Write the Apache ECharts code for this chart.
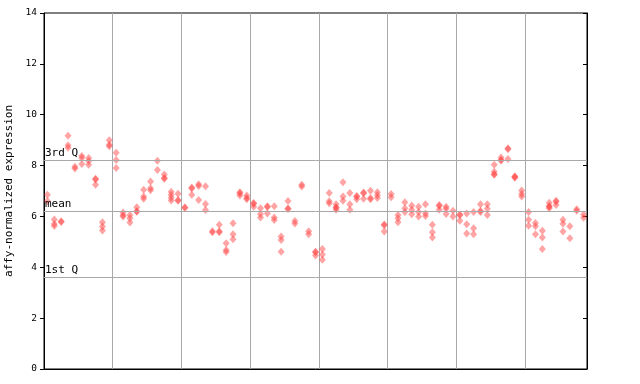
<!DOCTYPE html>
<html>
<head>
<meta charset="utf-8">
<script src="https://cdn.jsdelivr.net/npm/echarts@6/dist/echarts.min.js"></script>
<style>html,body{margin:0;padding:0;background:#fff}#c{width:640px;height:384px}</style>
</head>
<body>
<div id="c"></div>
<script>
// replicate values per sample, grouped by 10 samples between grid lines
const samples00 = [[6.85,6.61],[5.88,5.70,5.62],[5.81,5.78],[9.17,8.80,8.70],[7.95,7.88],[8.38,8.30,8.06],[8.30,8.18,8.03],[7.48,7.45,7.25],[5.77,5.60,5.45],[9.00,8.82,8.76]];
const samples10 = [[8.50,8.22,7.90],[6.15,6.05,6.00],[6.06,5.93,5.76],[6.36,6.20,6.18],[7.05,6.78,6.70],[7.37,7.11,7.03],[8.19,7.83],[7.65,7.51,7.48],[6.97,6.85,6.73,6.63],[6.89,6.65,6.62]];
const samples20 = [[6.36,6.33],[7.14,7.10,6.85],[7.27,7.20,6.65],[7.19,6.49,6.25],[5.42,5.38],[5.67,5.42,5.38],[4.95,4.68,4.60],[5.73,5.30,5.10],[6.95,6.91,6.82],[6.82,6.72,6.68]];
const samples30 = [[6.53,6.50,6.38],[6.32,6.10,5.96],[6.40,6.37,6.12],[6.40,5.96,5.86],[5.21,5.07,4.61],[6.61,6.31,6.29],[5.82,5.72],[7.25,7.18],[5.42,5.30],[4.61,4.59,4.46]];
const samples40 = [[4.72,4.50,4.30],[6.92,6.60,6.52],[6.48,6.36,6.34,6.26],[7.34,6.78,6.62],[6.92,6.48,6.26],[6.80,6.77,6.68],[6.94,6.91,6.70],[7.01,6.72,6.68],[6.95,6.83,6.72],[5.68,5.65,5.41]];
const samples50 = [[6.88,6.75],[6.06,5.93,5.77],[6.56,6.32,6.17],[6.43,6.26,6.09],[6.38,6.17,6.00],[6.48,6.12,6.02],[5.67,5.38,5.17],[6.45,6.41,6.26],[6.38,6.30,6.10],[6.22,6.00]];
const samples60 = [[6.08,6.05,5.83],[6.12,5.69,5.33],[6.17,5.54,5.30],[6.48,6.22,6.17],[6.48,6.30,6.06],[8.03,7.76,7.66,7.64],[8.32,8.22,8.20],[8.68,8.64,8.26],[7.58,7.55,7.52],[7.02,6.88,6.78]];
const samples70 = [[6.17,5.87,5.63],[5.74,5.61,5.30],[5.44,5.17,4.72],[6.54,6.41,6.38,6.32],[6.62,6.58,6.45],[5.87,5.71,5.41],[5.61,5.14],[6.28,6.22],[6.08,5.95]];
const quartiles = {q3: 8.22, mean: 6.22, q1: 3.62};
const quartileLabels = ['3rd Q', 'mean', '1st Q'];
const yTicks = [0, 2, 4, 6, 8, 10, 12, 14];
const yTitle = 'affy-normalized expression';

const allSamples = [].concat(samples00, samples10, samples20, samples30, samples40, samples50, samples60, samples70);
const points = [];
allSamples.forEach((vals, k) => vals.forEach(v => points.push([k + 0.5, v])));

const chart = echarts.init(document.getElementById('c'), null, {renderer: 'canvas'});
const mono = 'DejaVu Sans Mono';
chart.setOption({
  animation: false,
  grid: {left: 44, right: 53, top: 13, bottom: 15, outerBoundsMode: 'none', containLabel: false,
    show: true, borderColor: '#000', borderWidth: 1, backgroundColor: 'transparent'},
  xAxis: {
    type: 'value', min: 0, max: allSamples.length, interval: 10,
    axisLine: {show: true, lineStyle: {color: '#000'}},
    axisTick: {show: false}, axisLabel: {show: false},
    splitLine: {show: true, lineStyle: {color: '#a8a8a8', width: 1}}
  },
  yAxis: [{
    type: 'value', min: 0, max: 14, interval: 2,
    name: yTitle, nameLocation: 'middle', nameGap: 27, nameRotate: 90,
    nameTextStyle: {fontFamily: mono, fontSize: 11, color: '#000'},
    axisLine: {show: true, lineStyle: {color: '#000'}},
    axisTick: {show: true, inside: false, length: 4, lineStyle: {color: '#000'}},
    axisLabel: {fontFamily: mono, fontSize: 9.5, color: '#000', margin: 7,
      formatter: v => yTicks.includes(v) ? String(v) : ''},
    splitLine: {show: false}
  }, {
    type: 'value', min: 0, max: 14, interval: 2, position: 'right',
    axisLine: {show: true, lineStyle: {color: '#000'}},
    axisTick: {show: true, inside: true, length: 4, lineStyle: {color: '#000'}},
    axisLabel: {show: false}, splitLine: {show: false}
  }],
  series: [{
    type: 'scatter',
    data: points,
    symbol: 'diamond',
    symbolSize: [7, 8],
    itemStyle: {color: 'rgba(255,64,64,0.6)'},
    markLine: {
      silent: true, symbol: 'none',
      lineStyle: {color: '#a8a8a8', type: 'solid', width: 1},
      label: {position: 'insideStartTop', distance: [1, 1], fontFamily: mono, fontSize: 11, color: '#000',
        formatter: p => p.name},
      data: [
        {yAxis: quartiles.q3, name: quartileLabels[0]},
        {yAxis: quartiles.mean, name: quartileLabels[1]},
        {yAxis: quartiles.q1, name: quartileLabels[2]}
      ]
    }
  }]
});
</script>
</body>
</html>
